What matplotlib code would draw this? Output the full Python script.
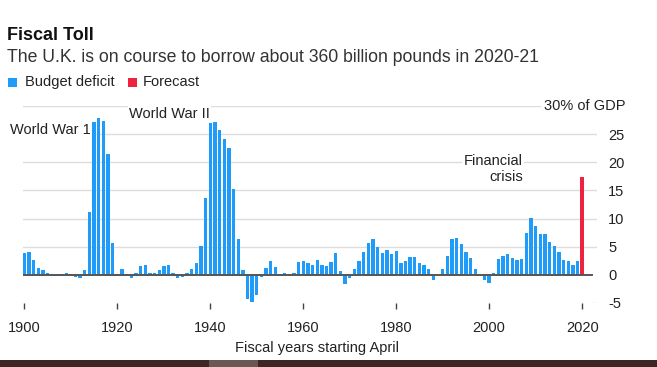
import matplotlib
matplotlib.use('Agg')
import matplotlib.pyplot as plt
from matplotlib.patches import Rectangle

plt.rcParams['font.family'] = ['Liberation Sans', 'DejaVu Sans']

# --- Data: UK budget deficit, % of GDP, fiscal years 1900-2019, plus 2020 forecast ---
years = list(range(1900, 2020))
deficit = [
    3.9, 4.1, 2.7, 1.25, 0.8, 0.4, 0.2, -0.25, 0.1, 0.3,            # 1900s
    -0.2, -0.4, -0.6, 0.8, 11.1, 27.1, 27.8, 27.3, 21.5, 5.7,       # 1910s
    0.1, 1.1, -0.2, -0.6, 0.4, 1.5, 1.8, 0.4, 0.3, 0.9,             # 1920s
    1.6, 1.8, 0.3, -0.5, -0.3, 0.4, 1.0, 2.1, 5.2, 13.7,            # 1930s
    27.0, 27.1, 25.7, 24.2, 22.5, 15.2, 6.4, 0.8, -4.3, -4.8,       # 1940s
    -3.6, -0.4, 1.25, 2.5, 1.4, -0.25, 0.4, 0.2, 0.3, 2.3,          # 1950s
    2.5, 2.1, 1.8, 2.7, 1.8, 1.5, 2.3, 3.9, 0.6, -1.7,              # 1960s
    -0.6, 1.0, 2.5, 4.1, 5.7, 6.4, 5.0, 3.9, 4.5, 3.75,             # 1970s
    4.3, 2.1, 2.5, 3.2, 3.2, 2.1, 1.8, 1.0, -0.9, 0.05,             # 1980s
    1.0, 3.3, 6.4, 6.6, 5.4, 4.1, 3.0, 1.0, 0.05, -1.0,             # 1990s
    -1.4, 0.4, 2.85, 3.3, 3.75, 3.0, 2.7, 2.85, 7.4, 10.1,          # 2000s
    8.75, 7.3, 7.3, 5.9, 5.2, 4.1, 2.7, 2.5, 1.8, 2.5,              # 2010s
]
forecast_year = [2020]
forecast = [17.3]

xticks = [1900, 1920, 1940, 1960, 1980, 2000, 2020]
yticks = [-5, 0, 5, 10, 15, 20, 25]

BLUE = '#1f9bfa'
RED = '#ee2340'
GRID = '#dddddd'
TEXT = '#222222'

W, H = 657, 367
fig = plt.figure(figsize=(W / 100, H / 100), dpi=100)

# axes placed in pixel coords: x 23..597, y (30) 106 .. (-5) 303
ax = fig.add_axes([23 / W, (H - 303) / H, (597 - 23) / W, (303 - 106) / H])
ax.set_xlim(1899.7, 2023.2)
ax.set_ylim(-5, 30)

for v in [5, 10, 15, 20, 25]:
    ax.axhline(v, color=GRID, lw=1, zorder=0)
ax.axhline(30, xmin=0, xmax=(540 - 23) / (597 - 23), color=GRID, lw=1, zorder=0)
ax.axhline(-5, xmin=(591 - 23) / (597 - 23), xmax=1, color=GRID, lw=1, zorder=0)

ax.bar(years, deficit, width=0.72, color=BLUE, zorder=2)
ax.bar(forecast_year, forecast, width=0.72, color=RED, zorder=2)
ax.axhline(0, xmin=0, xmax=(592 - 23) / (597 - 23), color='#555555', lw=1.4, zorder=3)

for s in ax.spines.values():
    s.set_visible(False)

ax.set_xticks(xticks)
ax.set_xticklabels([str(x) for x in xticks], fontsize=10.5, color=TEXT)
ax.tick_params(axis='x', direction='out', length=4, width=1, color='#444444', pad=9)
ax.yaxis.tick_right()
ax.set_yticks(yticks)
ax.set_yticklabels([str(y) for y in yticks], fontsize=10.5, color=TEXT)
ax.tick_params(axis='y', length=0, pad=8)

ax.text(2011.8, 30, '30% of GDP', fontsize=10.5, color=TEXT, va='center', ha='left')

# annotations sit under the bars but over the gridlines
box = dict(facecolor='white', edgecolor='none', pad=1)
ax.text(1914.3, 25.7, 'World War 1', fontsize=10.5, color=TEXT, ha='right', va='center', bbox=box, zorder=1)
ax.text(1922.5, 28.6, 'World War II', fontsize=10.5, color=TEXT, ha='left', va='center', bbox=box, zorder=1)
ax.text(2007.2, 20.2, 'Financial', fontsize=10.5, color=TEXT, ha='right', va='center', bbox=box, zorder=1)
ax.text(2007.2, 17.3, 'crisis', fontsize=10.5, color=TEXT, ha='right', va='center', zorder=1)

fig.text(317 / W, 1 - 348 / H, 'Fiscal years starting April', fontsize=10.5, color=TEXT,
         ha='center', va='center')

# header
fig.text(7 / W, 1 - 36 / H, 'Fiscal Toll', fontsize=13, fontweight='bold', color='#111111', va='center')
fig.text(7 / W, 1 - 57 / H, 'The U.K. is on course to borrow about 360 billion pounds in 2020-21',
         fontsize=12.7, color='#333333', va='center')
fig.patches.append(Rectangle((8 / W, 1 - 87 / H), 9 / W, 9 / H, transform=fig.transFigure,
                             facecolor=BLUE, edgecolor='none'))
fig.text(25 / W, 1 - 82 / H, 'Budget deficit', fontsize=10.5, color=TEXT, va='center')
fig.patches.append(Rectangle((128 / W, 1 - 87 / H), 9 / W, 9 / H, transform=fig.transFigure,
                             facecolor=RED, edgecolor='none'))
fig.text(143 / W, 1 - 82 / H, 'Forecast', fontsize=10.5, color=TEXT, va='center')

# dark strip at the bottom of the screenshot
fig.patches.append(Rectangle((0, 0), 1, 7 / H, transform=fig.transFigure,
                             facecolor='#3d2723', edgecolor='none'))
fig.patches.append(Rectangle((209 / W, 0), 49 / W, 7 / H, transform=fig.transFigure,
                             facecolor='#6a5852', edgecolor='none'))

fig.savefig('out.png', dpi=100)
